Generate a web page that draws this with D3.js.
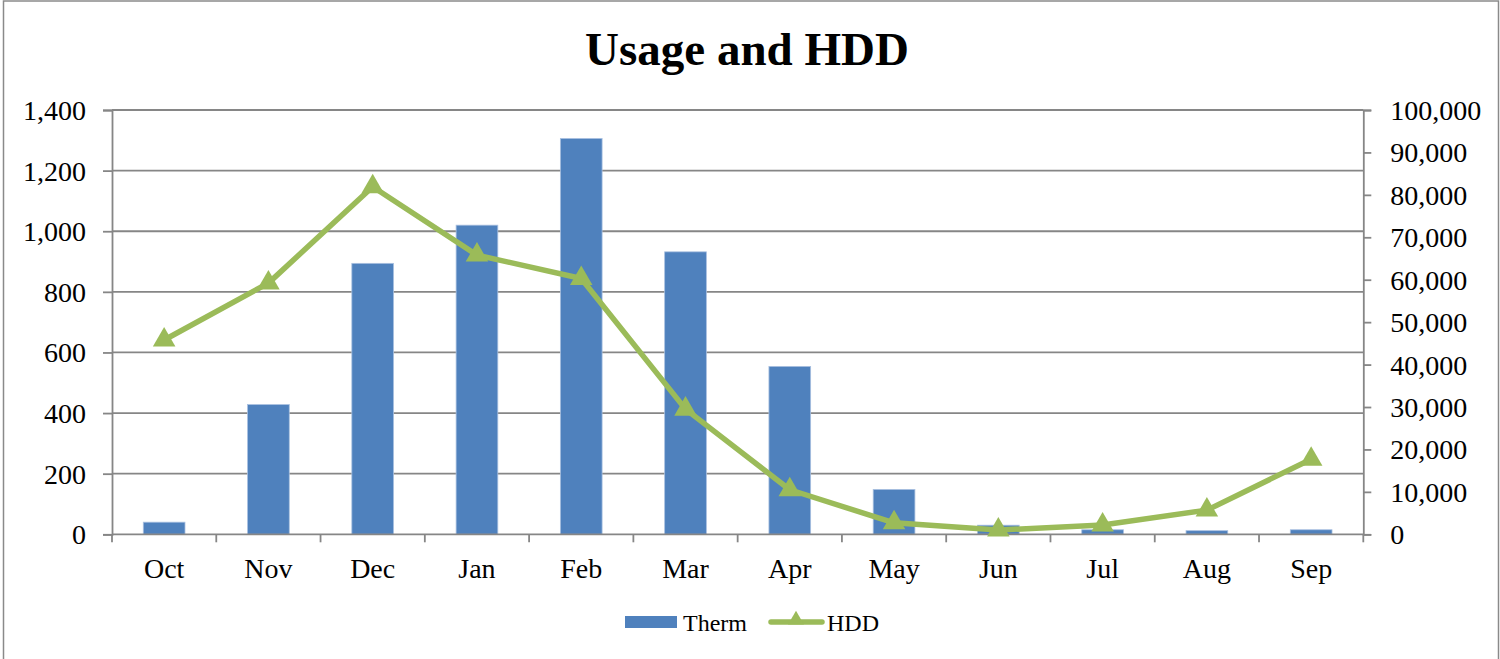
<!DOCTYPE html>
<html>
<head>
<meta charset="utf-8">
<script src="https://cdn.jsdelivr.net/npm/d3@7"></script>
<style>
  html, body { margin: 0; padding: 0; background: #fff; }
  svg { display: block; }
  text { font-family: "Liberation Serif", "Times New Roman", serif; fill: #000; }
</style>
</head>
<body>
<svg id="chart" width="1500" height="659"></svg>
<script>
// Monthly gas usage (therms, left axis) and heating degree days (right axis)
const months = ["Oct", "Nov", "Dec", "Jan", "Feb", "Mar", "Apr", "May", "Jun", "Jul", "Aug", "Sep"];
const therms = [40, 428, 894, 1020, 1306, 932, 554, 148, 30, 15, 12, 15];
const hdd = [45800, 59200, 81900, 65800, 60300, 29500, 10500, 2700, 1000, 2200, 5700, 17700];
const leftTicks = [0, 200, 400, 600, 800, 1000, 1200, 1400];
const rightTicks = [0, 10000, 20000, 30000, 40000, 50000, 60000, 70000, 80000, 90000, 100000];

const svg = d3.select("#chart");
const plot = { left: 112, right: 1363.3, top: 110, bottom: 534.3 };

const x = d3.scaleBand().domain(months).range([plot.left, plot.right]).padding(0);
const yL = d3.scaleLinear().domain([0, 1400]).range([plot.bottom, plot.top]);
const yR = d3.scaleLinear().domain([0, 100000]).range([plot.bottom, plot.top]);
const fmt = d3.format(",");

const gridColor = "#868686";
const gridWidth = 1.8;
const barColor = "#4F81BD";
const lineColor = "#9BBB59";

// outer frame
svg.append("rect")
  .attr("x", 3.5).attr("y", 1).attr("width", 1495).attr("height", 700)
  .attr("fill", "none").attr("stroke", "#8a8a8a").attr("stroke-width", 1.5);

// title
svg.append("text")
  .attr("x", 747).attr("y", 65)
  .attr("text-anchor", "middle")
  .style("font-size", "47px").style("font-weight", "bold")
  .text("Usage and HDD");

// horizontal gridlines at left-axis ticks
svg.append("g").selectAll("line")
  .data(leftTicks.filter(d => d > 0))
  .join("line")
  .attr("x1", plot.left).attr("x2", plot.right)
  .attr("y1", d => yL(d)).attr("y2", d => yL(d))
  .attr("stroke", gridColor).attr("stroke-width", gridWidth);

// left axis
const leftAxis = svg.append("g")
  .attr("transform", `translate(${plot.left},0)`)
  .call(d3.axisLeft(yL).tickValues(leftTicks).tickFormat(fmt).tickSize(9).tickPadding(17));
leftAxis.select(".domain").attr("stroke", gridColor).attr("stroke-width", gridWidth);
leftAxis.selectAll(".tick line").attr("stroke", gridColor).attr("stroke-width", gridWidth);
leftAxis.selectAll("text")
  .style("font-size", "28px").style("font-family", '"Liberation Serif", serif')
  .attr("fill", "#000").attr("dy", "0.34em");

// right axis
const rightAxis = svg.append("g")
  .attr("transform", `translate(${plot.right},0)`)
  .call(d3.axisRight(yR).tickValues(rightTicks).tickFormat(fmt).tickSize(8).tickPadding(19));
rightAxis.select(".domain").attr("stroke", gridColor).attr("stroke-width", gridWidth);
rightAxis.selectAll(".tick line").attr("stroke", gridColor).attr("stroke-width", gridWidth);
rightAxis.selectAll("text")
  .style("font-size", "28px").style("font-family", '"Liberation Serif", serif')
  .attr("fill", "#000").attr("dy", "0.34em");

// bars
const barW = x.bandwidth() * 0.4;
svg.append("g").selectAll("rect")
  .data(months.map((m, i) => ({ m, v: therms[i] })))
  .join("rect")
  .attr("x", d => x(d.m) + (x.bandwidth() - barW) / 2)
  .attr("width", barW)
  .attr("y", d => yL(d.v))
  .attr("height", d => yL(0) - yL(d.v))
  .attr("fill", barColor)
  .attr("stroke", "#a9c0e0").attr("stroke-width", 0.8);

// category axis (drawn above bars)
const bottomAxis = svg.append("g")
  .attr("transform", `translate(0,${plot.bottom})`);
bottomAxis.append("line")
  .attr("x1", plot.left).attr("x2", plot.right)
  .attr("stroke", gridColor).attr("stroke-width", gridWidth);
const boundaries = months.map(m => x(m)).concat([plot.right]);
bottomAxis.selectAll("line.tick")
  .data(boundaries)
  .join("line").attr("class", "tick")
  .attr("x1", d => d).attr("x2", d => d)
  .attr("y1", 0).attr("y2", 8)
  .attr("stroke", gridColor).attr("stroke-width", gridWidth);
bottomAxis.selectAll("text")
  .data(months)
  .join("text")
  .attr("x", d => x(d) + x.bandwidth() / 2)
  .attr("y", 44)
  .attr("text-anchor", "middle")
  .style("font-size", "28px")
  .text(d => d);

// HDD line
const pts = months.map((m, i) => [x(m) + x.bandwidth() / 2, yR(hdd[i])]);
svg.append("path")
  .attr("d", d3.line()(pts))
  .attr("fill", "none")
  .attr("stroke", lineColor).attr("stroke-width", 5.5)
  .attr("stroke-linejoin", "round").attr("stroke-linecap", "round");

const tri = d3.symbol().type(d3.symbolTriangle).size(220);
svg.append("g").selectAll("path")
  .data(pts)
  .join("path")
  .attr("transform", d => `translate(${d[0]},${d[1]})`)
  .attr("d", tri)
  .attr("fill", lineColor);

// legend
const legend = svg.append("g");
legend.append("rect")
  .attr("x", 625).attr("y", 616).attr("width", 52).attr("height", 12)
  .attr("fill", barColor);
legend.append("text")
  .attr("x", 683).attr("y", 631)
  .style("font-size", "24px")
  .text("Therm");
legend.append("line")
  .attr("x1", 771).attr("x2", 822).attr("y1", 622).attr("y2", 622)
  .attr("stroke", lineColor).attr("stroke-width", 5.5).attr("stroke-linecap", "round");
legend.append("path")
  .attr("transform", "translate(796,620)")
  .attr("d", d3.symbol().type(d3.symbolTriangle).size(110))
  .attr("fill", lineColor);
legend.append("text")
  .attr("x", 827).attr("y", 631)
  .style("font-size", "24px")
  .text("HDD");
</script>
</body>
</html>
